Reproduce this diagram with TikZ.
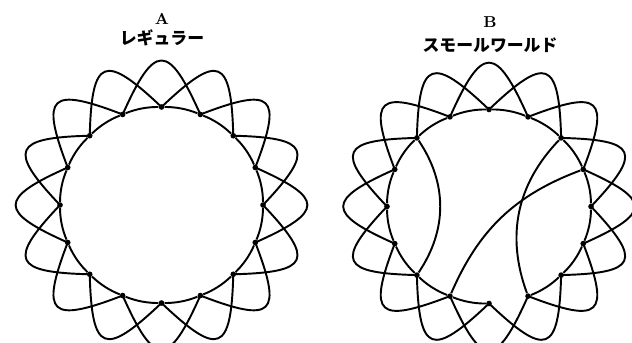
\documentclass[tikz,border=0pt]{standalone}
\usepackage{fontspec}
\newfontfamily\jpfont{Noto Sans CJK JP}

\begin{document}
\begin{tikzpicture}[
    x=0.02cm, y=0.02cm,
    vertex/.style={circle, fill=black, inner sep=0pt, minimum size=3.2pt},
    link/.style={line width=1.1pt, black},
    letter/.style={font=\bfseries\fontsize{9}{10}\selectfont},
    caption/.style={font=\jpfont\bfseries\fontsize{9.6}{11}\selectfont},
]
\useasboundingbox (0,0) rectangle (632,342);
\clip (0,0) rectangle (632,342);

% headings
\node[letter] (ta) at (162,323) {A};
\node[caption] (ca) at (162,304) {レギュラー};
\node[letter] (tb) at (490,320) {B};
\node[caption] (cb) at (490,297) {スモールワールド};

% vertices of both rings
\foreach \k in {0,...,15} {
  \node[vertex] (a\k) at ({161.5+101.5*cos(90+22.5*\k)}, {137+98*sin(90+22.5*\k)}) {};
  \node[vertex] (b\k) at ({489+102*cos(90+22.5*\k)}, {135.5+97*sin(90+22.5*\k)}) {};
}

% A: ring and outer loops
\foreach \k in {0,...,15} {
  \pgfmathtruncatemacro{\n}{mod(\k+1,16)}
  \pgfmathtruncatemacro{\m}{mod(\k+2,16)}
  \pgfmathsetmacro{\ang}{90+22.5*\k}
  \draw[link] (a\k) to[bend right=11.25, looseness=0.86] (a\n);
  \draw[link] (a\k.center) to[out=\ang+46.5, in=\ang-1.5, looseness=2.6] (a\m.center);
}

% B: ring with one gap, outer loops
\foreach \k in {0,...,7,9,10,...,15} {
  \pgfmathtruncatemacro{\n}{mod(\k+1,16)}
  \draw[link] (b\k) to[bend right=11.25, looseness=0.86] (b\n);
}
\foreach \k in {0,...,15} {
  \pgfmathtruncatemacro{\m}{mod(\k+2,16)}
  \pgfmathsetmacro{\ang}{90+22.5*\k}
  \draw[link] (b\k.center) to[out=\ang+46.5, in=\ang-1.5, looseness=2.6] (b\m.center);
}

% B: shortcuts
\draw[link] (b2) to[bend left=34] (b6);
\draw[link] (b7) to[bend left=23] (b13);
\draw[link] (b9) to[bend left=32] (b14);

\end{tikzpicture}
\end{document}
